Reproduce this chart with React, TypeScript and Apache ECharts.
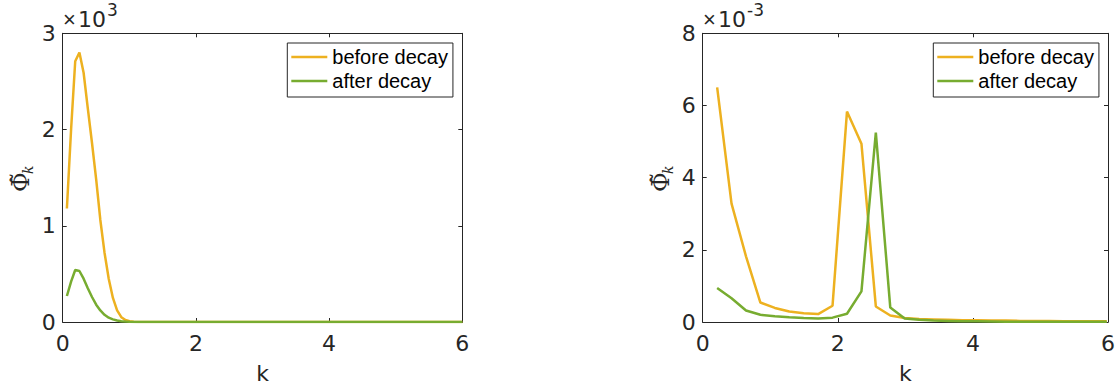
import React, { useEffect, useRef } from "react";
import * as echarts from "echarts";

// Wavenumber grid and spectra, left panel (values in units of 10^3)
const kLeft = [
  0.063, 0.126, 0.188, 0.251, 0.314, 0.377, 0.44, 0.503, 0.565, 0.628, 0.691,
  0.754, 0.817, 0.88, 0.942, 1.005, 1.068, 1.131, 1.194, 1.257, 6.0,
];
const beforeLeft = [
  1.18, 2.0, 2.71, 2.8, 2.59, 2.22, 1.86, 1.48, 1.06, 0.72, 0.45, 0.25, 0.12,
  0.05, 0.02, 0.008, 0.003, 0.001, 0, 0, 0,
];
const afterLeft = [
  0.27, 0.42, 0.54, 0.53, 0.45, 0.35, 0.26, 0.18, 0.12, 0.075, 0.045, 0.027,
  0.015, 0.008, 0.004, 0.002, 0.001, 0, 0, 0, 0,
];

// Right panel (values in units of 10^-3)
const kRight = [
  0.214, 0.427, 0.641, 0.854, 1.068, 1.282, 1.495, 1.709, 1.922, 2.136, 2.35,
  2.563, 2.777, 2.99, 3.204, 3.418, 3.631, 3.845, 4.058, 4.272, 4.486, 4.699,
  4.913, 5.126, 5.34, 5.554, 5.767, 5.981,
];
const beforeRight = [
  6.5, 3.28, 1.82, 0.54, 0.39, 0.29, 0.24, 0.22, 0.45, 5.83, 4.94, 0.43, 0.18,
  0.11, 0.08, 0.07, 0.06, 0.05, 0.05, 0.04, 0.04, 0.03, 0.03, 0.03, 0.02,
  0.02, 0.02, 0.02,
];
const afterRight = [
  0.94, 0.66, 0.32, 0.2, 0.16, 0.13, 0.11, 0.1, 0.12, 0.23, 0.85, 5.25, 0.4,
  0.1, 0.06, 0.04, 0.03, 0.02, 0.02, 0.015, 0.01, 0.01, 0.01, 0.01, 0.005,
  0.005, 0.005, 0.005,
];

const seriesNames = ["before decay", "after decay"];
const xTicks = { min: 0, max: 6, interval: 2 };
const yLeft = { min: 0, max: 3, interval: 1, exponent: "3" };
const yRight = { min: 0, max: 8, interval: 2, exponent: "-3" };

const ORANGE = "#EDB120";
const GREEN = "#77AC30";
const INK = "#262626";
const SANS = "Liberation Sans";
const DIGITS = "DejaVu Sans";

const pair = (xs: number[], ys: number[]) => xs.map((x, i) => [x, ys[i]]);

export default function App() {
  const ref = useRef<HTMLDivElement>(null);

  useEffect(() => {
    if (!ref.current) return;
    const chart = echarts.init(ref.current, undefined, { renderer: "svg" });

    const grids = [
      { left: 62.7, top: 33.3, width: 399.6, height: 289 },
      { left: 702.7, top: 33.3, width: 406, height: 289 },
    ];

    const axisLine = { show: true, onZero: false, lineStyle: { color: INK, width: 1 } };
    const tick = { show: true, inside: true, length: 4, lineStyle: { color: INK, width: 1 } };

    const xAxis: any[] = [];
    const yAxis: any[] = [];
    grids.forEach((_, gi) => {
      const yr = gi === 0 ? yLeft : yRight;
      xAxis.push({
        type: "value",
        gridIndex: gi,
        position: "bottom",
        ...xTicks,
        axisLine,
        axisTick: tick,
        splitLine: { show: false },
        axisLabel: { fontSize: 22, fontFamily: DIGITS, color: INK, margin: 10 },
        name: "k",
        nameLocation: "middle",
        nameGap: 40,
        nameTextStyle: { fontSize: 22, fontFamily: DIGITS, color: INK },
      });
      xAxis.push({
        type: "value",
        gridIndex: gi,
        position: "top",
        ...xTicks,
        axisLine,
        axisTick: tick,
        splitLine: { show: false },
        axisLabel: { show: false },
      });
      yAxis.push({
        type: "value",
        gridIndex: gi,
        position: "left",
        min: yr.min,
        max: yr.max,
        interval: yr.interval,
        axisLine,
        axisTick: tick,
        splitLine: { show: false },
        axisLabel: { fontSize: 22, fontFamily: DIGITS, color: INK, margin: 7 },
      });
      yAxis.push({
        type: "value",
        gridIndex: gi,
        position: "right",
        min: yr.min,
        max: yr.max,
        interval: yr.interval,
        axisLine,
        axisTick: tick,
        splitLine: { show: false },
        axisLabel: { show: false },
      });
    });

    const line = (name: string, color: string, data: number[][], gi: number) => ({
      type: "line",
      name,
      data,
      xAxisIndex: gi * 2,
      yAxisIndex: gi * 2,
      showSymbol: false,
      symbol: "none",
      color,
      lineStyle: { color, width: 2.5 },
      z: name === seriesNames[1] ? 3 : 2,
    });

    const legend = (left: number) => ({
      left,
      top: 43,
      orient: "vertical",
      data: seriesNames,
      icon: "rect",
      itemWidth: 36,
      itemHeight: 2.5,
      itemGap: 4,
      padding: [4, 5, 6, 4],
      borderColor: INK,
      borderWidth: 1,
      backgroundColor: "#ffffff",
      selectedMode: false,
      textStyle: { fontSize: 20, fontFamily: SANS, color: "#000000" },
    });

    // Exponent marker above each y axis
    const exponent = (x0: number, exp: string) => [
      {
        type: "text",
        x: x0,
        y: 19.5,
        style: { text: "×", fontSize: 22, fontFamily: SANS, fill: INK, align: "left", verticalAlign: "middle" },
      },
      {
        type: "text",
        x: x0 + 15,
        y: 19.5,
        style: { text: "10", fontSize: 22, fontFamily: DIGITS, fill: INK, align: "left", verticalAlign: "middle" },
      },
      {
        type: "text",
        x: x0 + 44,
        y: 10,
        style: { text: exp, fontSize: 17, fontFamily: DIGITS, fill: INK, align: "left", verticalAlign: "middle" },
      },
    ];

    // Rotated y-axis label: tilde-Phi with subscript k
    const yLabel = (x0: number) => ({
      type: "group",
      x: x0,
      y: 192,
      rotation: Math.PI / 2,
      children: [
        {
          type: "text",
          x: 0,
          y: 0,
          style: { text: "Φ\u0303", fontSize: 24, fontFamily: "DejaVu Serif", fill: INK, align: "left", verticalAlign: "middle" },
        },
        {
          type: "text",
          x: 18,
          y: 7,
          style: { text: "k", fontSize: 14, fontStyle: "italic", fontFamily: "DejaVu Serif", fill: INK, align: "left", verticalAlign: "middle" },
        },
      ],
    });

    chart.setOption({
      animation: false,
      backgroundColor: "#ffffff",
      grid: grids,
      xAxis,
      yAxis,
      legend: [legend(287.3), legend(933.3)],
      series: [
        line(seriesNames[0], ORANGE, pair(kLeft, beforeLeft), 0),
        line(seriesNames[1], GREEN, pair(kLeft, afterLeft), 0),
        line(seriesNames[0], ORANGE, pair(kRight, beforeRight), 1),
        line(seriesNames[1], GREEN, pair(kRight, afterRight), 1),
      ],
      graphic: [
        ...exponent(63, yLeft.exponent),
        ...exponent(703, yRight.exponent),
        yLabel(21),
        yLabel(661),
      ],
    });

    return () => chart.dispose();
  }, []);

  return (
    <div
      ref={ref}
      style={{ position: "absolute", left: 0, top: 0, width: 1118, height: 389, background: "#fff" }}
    />
  );
}
